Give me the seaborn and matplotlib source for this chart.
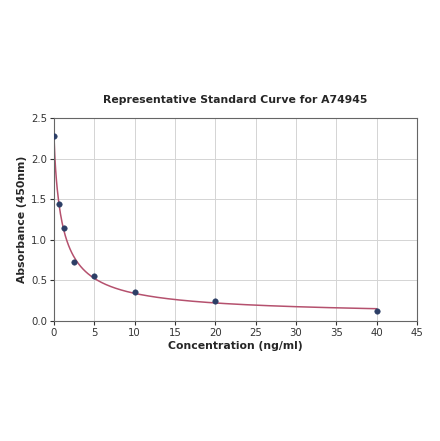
import numpy as np
import pandas as pd
import matplotlib
matplotlib.use("Agg")
import matplotlib.pyplot as plt
import seaborn as sns

conc = [0.0, 0.625, 1.25, 2.5, 5.0, 10.0, 20.0, 40.0]
absorb = [2.28, 1.44, 1.15, 0.73, 0.55, 0.36, 0.25, 0.12]
x_ticks = [0, 5, 10, 15, 20, 25, 30, 35, 40, 45]
y_ticks = [0.0, 0.5, 1.0, 1.5, 2.0, 2.5]

df = pd.DataFrame({"conc": conc, "abs": absorb})

# 4PL fit by simple grid search
xs = np.array(conc); ys = np.array(absorb)
def f4(x, a, b, c, d):
    return d + (a - d) / (1 + (np.maximum(x, 0) / c) ** b)
best = None
for a in np.linspace(2.2, 2.45, 11):
    for b in np.linspace(0.5, 1.5, 41):
        for c in np.linspace(0.3, 3.0, 55):
            for d in np.linspace(-0.2, 0.2, 21):
                e = np.sum((f4(xs, a, b, c, d) - ys) ** 2)
                if best is None or e < best[0]:
                    best = (e, a, b, c, d)
_, a, b, c, d = best
xc = np.linspace(0, 40, 400)
curve = pd.DataFrame({"conc": xc, "abs": f4(xc, a, b, c, d)})

sns.set_style("whitegrid")
plt.rcParams["font.family"] = ["DejaVu Sans"]
fig = plt.figure(figsize=(4.40, 4.41), dpi=100)
ax = fig.add_axes([0.1227, 0.2721, 0.825, 0.4603])

sns.lineplot(data=curve, x="conc", y="abs", ax=ax, color="#b5516e", linewidth=1.1)
sns.scatterplot(data=df, x="conc", y="abs", ax=ax, color="#2c3e66", s=16, edgecolor="#2c3e66", zorder=5)

ax.set_xlim(0, 45)
ax.set_ylim(0, 2.5)
ax.set_xticks(x_ticks)
ax.set_yticks(y_ticks)
ax.set_yticklabels([f"{v:.1f}" for v in y_ticks])
ax.grid(True, color="#d4d4d4", linewidth=0.7)
for s in ax.spines.values():
    s.set_visible(True)
    s.set_color("#666666")
    s.set_linewidth(0.8)
ax.tick_params(axis="both", labelsize=7.3, colors="#333333", length=3, width=0.8, left=True, bottom=True, pad=2)
ax.set_xlabel("Concentration (ng/ml)", fontsize=7.8, fontweight="bold", labelpad=2)
ax.set_ylabel("Absorbance (450nm)", fontsize=7.8, fontweight="bold", labelpad=3)
ax.set_title("Representative Standard Curve for A74945", fontsize=7.8, fontweight="bold", pad=11)

fig.savefig("out.png", dpi=100)
